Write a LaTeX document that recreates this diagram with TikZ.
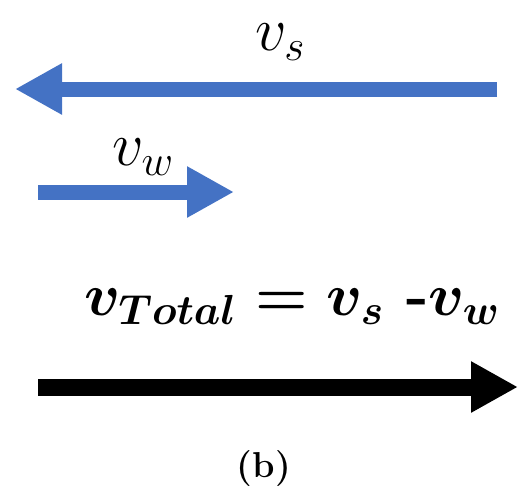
\RequirePackage{fix-cm}
\documentclass[tikz,border=0pt]{standalone}
\usepackage{amsmath}
\usepackage{tikz}
\usetikzlibrary{arrows.meta}
\definecolor{vblue}{HTML}{4472C4}
\tikzset{
  vec/.style={line width=15pt,-{Triangle[length=47pt,width=48pt]}},
  lbl/.style={font=\fontsize{62}{66}\selectfont,inner sep=0pt}
}
\begin{document}
\begin{tikzpicture}[x=1pt,y=-1pt]
  \useasboundingbox (0,0) rectangle (520,491);
  % ship speed
  \coordinate (vsR) at (497,89);
  \coordinate (vsL) at (15,89);
  \draw[vec,vblue] (vsR) -- (vsL);
  \node[lbl] (vs) at (280,42) {$v_s$};
  % wind speed
  \coordinate (vwL) at (38,192);
  \coordinate (vwR) at (234,192);
  \draw[vec,vblue] (vwL) -- (vwR);
  \node[lbl] (vw) at (143,157) {$v_w$};
  % total
  \node[lbl,font=\fontsize{60}{66}\selectfont\bfseries\boldmath] (vt) at (292,307) {$v_{Total} = v_s$ -$v_w$};
  \coordinate (vtL) at (38,387);
  \coordinate (vtR) at (518,387);
  \draw[vec,line width=17pt,black] (vtL) -- (vtR);
  \node[font=\fontsize{36}{40}\selectfont\bfseries,inner sep=0pt] (cap) at (264,469) {(b)};
\end{tikzpicture}
\end{document}
